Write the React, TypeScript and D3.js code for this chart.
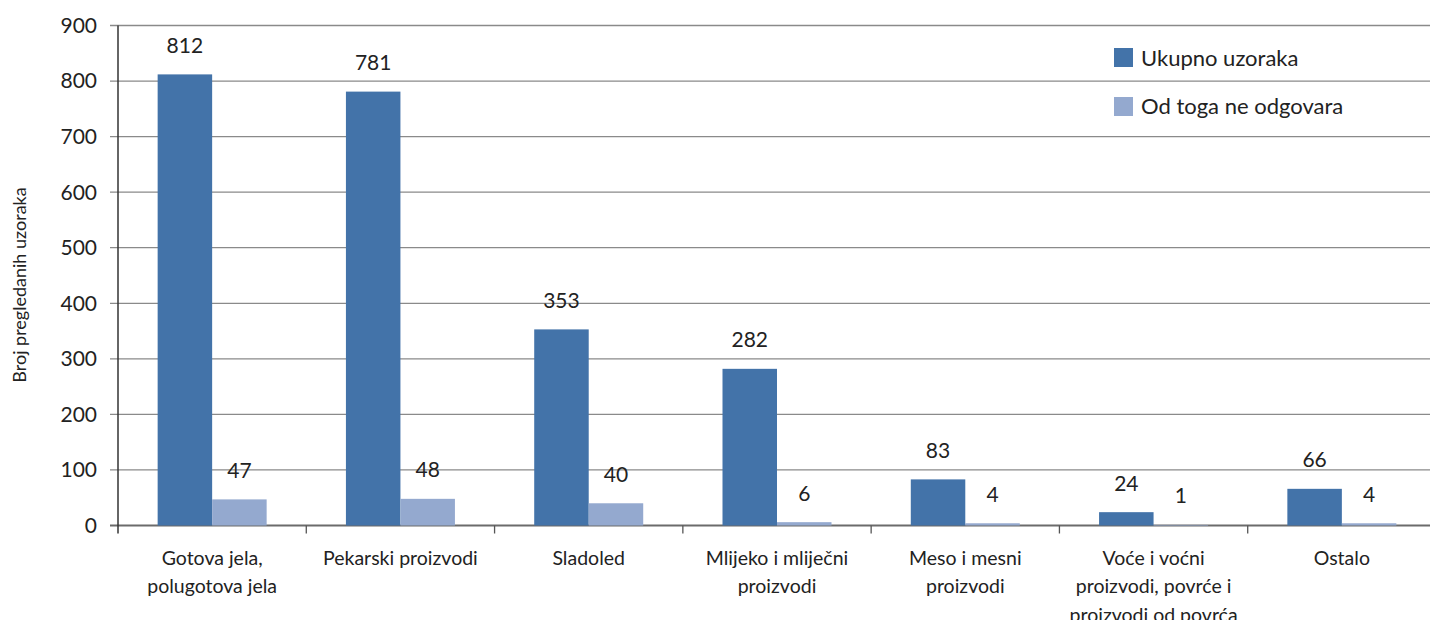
import React from "react";
import * as d3 from "d3";

const categories: string[][] = [
  ["Gotova jela,", "polugotova jela"],
  ["Pekarski proizvodi"],
  ["Sladoled"],
  ["Mlijeko i mliječni", "proizvodi"],
  ["Meso i mesni", "proizvodi"],
  ["Voće i voćni", "proizvodi, povrće i", "proizvodi od povrća"],
  ["Ostalo"],
];
const totalSamples = [812, 781, 353, 282, 83, 24, 66];
const nonCompliant = [47, 48, 40, 6, 4, 1, 4];
const yTicks = [0, 100, 200, 300, 400, 500, 600, 700, 800, 900];
const seriesNames = ["Ukupno uzoraka", "Od toga ne odgovara"];
const seriesColors = ["#4373a9", "#94a9cf"];
const yTitle = "Broj pregledanih uzoraka";

const W = 1436;
const H = 620;
const FONT = "Lato, 'Open Sans', sans-serif";

export default function App() {
  const left = 118;
  const right = 1436;
  const top = 25.5;
  const bottom = 525.5;
  const x = d3
    .scaleBand<number>()
    .domain(categories.map((_, i) => i))
    .range([left, right]);
  const y = d3.scaleLinear().domain([0, 900]).range([bottom, top]);
  const bw = x.bandwidth();
  const barW = 54.5;
  const series = [totalSamples, nonCompliant];

  return (
    <svg
      width={W}
      height={H}
      style={{ position: "absolute", left: 0, top: 0, background: "#fff" }}
      fontFamily={FONT}
    >
      {yTicks.map((t) => (
        <g key={t}>
          <line
            x1={left - 8}
            x2={1430}
            y1={y(t)}
            y2={y(t)}
            stroke={t === 0 ? "#6b6b6b" : "#8a8a8a"}
            strokeWidth={t === 0 ? 2 : 1.3}
          />
          <text
            x={97}
            y={y(t)}
            dy="0.35em"
            textAnchor="end"
            fontSize={21}
            fill="#222"
          >
            {t}
          </text>
        </g>
      ))}
      <line x1={left} x2={left} y1={top} y2={bottom + 8} stroke="#333" strokeWidth={1.5} />
      {categories.map((_, i) =>
        i < categories.length - 1 ? (
          <line
            key={"t" + i}
            x1={(x(i) as number) + bw}
            x2={(x(i) as number) + bw}
            y1={bottom}
            y2={bottom + 8}
            stroke="#555"
            strokeWidth={1.3}
          />
        ) : null
      )}
      {series.map((vals, s) =>
        vals.map((v, i) => {
          const cx = (x(i) as number) + bw / 2;
          const bx = s === 0 ? cx - barW : cx;
          return (
            <g key={`b${s}-${i}`}>
              <rect
                x={bx}
                y={y(v)}
                width={barW}
                height={bottom - y(v)}
                fill={seriesColors[s]}
              />
              <text
                x={bx + barW / 2}
                y={y(v) - 29}
                dy="0.35em"
                textAnchor="middle"
                fontSize={21}
                fill="#222"
              >
                {v}
              </text>
            </g>
          );
        })
      )}
      {categories.map((lines, i) => (
        <text
          key={"c" + i}
          x={(x(i) as number) + bw / 2}
          y={558}
          textAnchor="middle"
          fontSize={19.5}
          fill="#222"
        >
          {lines.map((l, k) => (
            <tspan key={k} x={(x(i) as number) + bw / 2} y={558 + k * 28.5} dy="0.35em">
              {l}
            </tspan>
          ))}
        </text>
      ))}
      <text
        transform={`translate(20,285) rotate(-90)`}
        textAnchor="middle"
        dy="0.35em"
        fontSize={18}
        fill="#222"
      >
        {yTitle}
      </text>
      {seriesNames.map((n, s) => (
        <g key={n}>
          <rect x={1114} y={48 + s * 49} width={19} height={19} fill={seriesColors[s]} />
          <text x={1141} y={58 + s * 48.5} dy="0.35em" fontSize={22} fill="#222">
            {n}
          </text>
        </g>
      ))}
    </svg>
  );
}
